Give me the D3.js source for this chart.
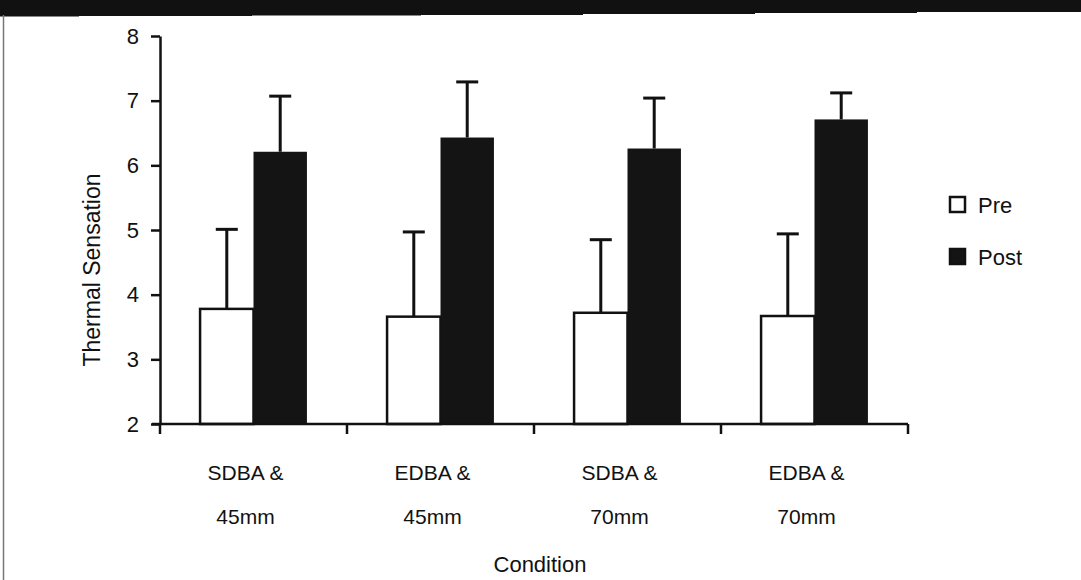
<!DOCTYPE html>
<html>
<head>
<meta charset="utf-8">
<script src="https://cdn.jsdelivr.net/npm/d3@7"></script>
<style>
  html, body { margin: 0; padding: 0; background: #fff; }
  svg { display: block; }
  text { font-family: "Liberation Sans", Arial, Helvetica, sans-serif; fill: #111; }
</style>
</head>
<body>
<svg id="chart" width="1081" height="580"></svg>
<script>
// ---- data ----
const categories = ["SDBA &\n45mm", "EDBA &\n45mm", "SDBA &\n70mm", "EDBA &\n70mm"];
const seriesNames = ["Pre", "Post"];
const preMean  = [3.78, 3.66, 3.72, 3.67];
const preSD    = [1.23, 1.31, 1.13, 1.27];
const postMean = [6.21, 6.43, 6.26, 6.71];
const postSD   = [0.86, 0.86, 0.78, 0.41];
const yTicks   = [2, 3, 4, 5, 6, 7, 8];
const yDomain  = [2, 8];
const yTitle = "Thermal Sensation";
const xTitle = "Condition";

// ---- layout ----
const svg = d3.select("#chart");
const W = 1081, H = 580;
const mLeft = 160, mRight = 908, mTop = 36, mBottom = 424;

// decorative scan frame: black header and left border
svg.append("polygon")
  .attr("points", [[0,0],[1081,0],[1081,12],[917,12],[917,13],[755,13],[755,14],[583,14],[583,15],[421,15],[421,15.5],[252,15.5],[252,16],[79,16],[79,16.5],[0,16.5]].map(p => p.join(",")).join(" "))
  .attr("fill", "#111");
svg.append("line").attr("x1", 3.5).attr("x2", 3.5).attr("y1", 15).attr("y2", H)
  .attr("stroke", "#777").attr("stroke-width", 1.5);

const y = d3.scaleLinear().domain(yDomain).range([mBottom, mTop]);
const x0 = d3.scaleBand().domain(categories).range([mLeft, mRight]).padding(0);
const x1 = d3.scaleBand().domain(seriesNames).range([0, x0.bandwidth()]).paddingInner(0).paddingOuter(0.75);

const rows = categories.map((c, i) => ({
  cat: c,
  vals: [
    { s: "Pre", m: preMean[i], sd: preSD[i] },
    { s: "Post", m: postMean[i], sd: postSD[i] }
  ]
}));

const g = svg.append("g");

const grp = g.selectAll("g.grp").data(rows).join("g")
  .attr("class", "grp")
  .attr("transform", d => `translate(${x0(d.cat)},0)`);

// error bars (upper only)
grp.selectAll("line.err").data(d => d.vals).join("line")
  .attr("class", "err")
  .attr("x1", d => x1(d.s) + x1.bandwidth() / 2)
  .attr("x2", d => x1(d.s) + x1.bandwidth() / 2)
  .attr("y1", d => y(d.m))
  .attr("y2", d => y(d.m + d.sd))
  .attr("stroke", "#111").attr("stroke-width", 3);
grp.selectAll("line.cap").data(d => d.vals).join("line")
  .attr("class", "cap")
  .attr("x1", d => x1(d.s) + x1.bandwidth() / 2 - 11)
  .attr("x2", d => x1(d.s) + x1.bandwidth() / 2 + 11)
  .attr("y1", d => y(d.m + d.sd))
  .attr("y2", d => y(d.m + d.sd))
  .attr("stroke", "#111").attr("stroke-width", 3);

grp.selectAll("rect").data(d => d.vals).join("rect")
  .attr("x", d => x1(d.s))
  .attr("width", x1.bandwidth())
  .attr("y", d => y(d.m))
  .attr("height", d => y(yDomain[0]) - y(d.m))
  .attr("fill", d => d.s === "Pre" ? "#fff" : "#141414")
  .attr("stroke", "#111")
  .attr("stroke-width", d => d.s === "Pre" ? 2.5 : 0);

// y axis
const yAxis = g.append("g")
  .attr("transform", `translate(${mLeft},0)`)
  .call(d3.axisLeft(y).tickValues(yTicks).tickFormat(d3.format("d")).tickSize(9).tickSizeOuter(0).tickPadding(12));
yAxis.select(".domain").attr("stroke", "#111").attr("stroke-width", 2.5);
yAxis.selectAll(".tick line").attr("stroke", "#111").attr("stroke-width", 2.5);
yAxis.selectAll(".tick text").attr("font-size", 22).attr("font-family", '"Liberation Sans", Arial, sans-serif').attr("fill", "#111");

// x axis: baseline and tick marks at band boundaries
const xBoundaries = categories.map(c => x0(c)).concat([x0.range()[1]]);
g.append("line")
  .attr("x1", mLeft - 8).attr("x2", mRight)
  .attr("y1", y(yDomain[0])).attr("y2", y(yDomain[0]))
  .attr("stroke", "#111").attr("stroke-width", 2.5);
g.selectAll("line.xtick").data(xBoundaries).join("line")
  .attr("class", "xtick")
  .attr("x1", d => d).attr("x2", d => d)
  .attr("y1", y(yDomain[0])).attr("y2", y(yDomain[0]) + 10)
  .attr("stroke", "#111").attr("stroke-width", 2.5);

// x tick labels (two lines)
const xl = g.selectAll("text.xl").data(categories).join("text")
  .attr("class", "xl")
  .attr("text-anchor", "middle")
  .attr("font-size", 21);
xl.each(function(d) {
  const t = d3.select(this);
  const cx = x0(d) + x0.bandwidth() / 2 - 8;
  d.split("\n").forEach((line, i) => {
    t.append("tspan").attr("x", cx).attr("y", 480 + i * 44).text(line);
  });
});

// axis titles
svg.append("text")
  .attr("transform", `translate(100,${(mTop + mBottom) / 2 + 40}) rotate(-90)`)
  .attr("text-anchor", "middle")
  .attr("font-size", 23)
  .text(yTitle);
svg.append("text")
  .attr("x", 540).attr("y", 572)
  .attr("text-anchor", "middle")
  .attr("font-size", 22)
  .text(xTitle);

// legend
const legend = svg.append("g").attr("transform", "translate(949,0)");
const legY = [205, 257];
seriesNames.forEach((s, i) => {
  legend.append("rect")
    .attr("x", 1).attr("y", legY[i] - 8).attr("width", 15).attr("height", 15)
    .attr("fill", s === "Pre" ? "#fff" : "#141414")
    .attr("stroke", "#111").attr("stroke-width", 2.5);
  legend.append("text")
    .attr("x", 29).attr("y", legY[i] + 8)
    .attr("font-size", 22)
    .text(s);
});
</script>
</body>
</html>
